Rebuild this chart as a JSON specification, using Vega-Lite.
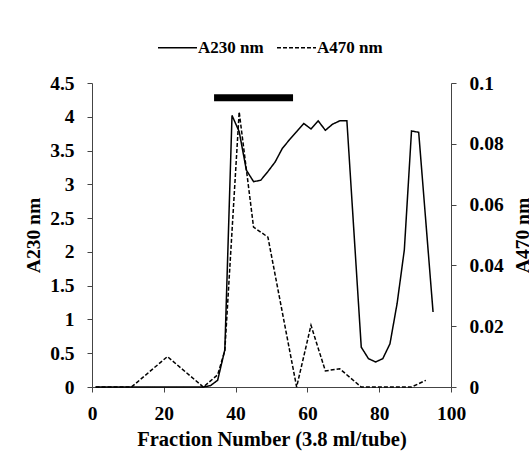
{
  "$schema": "https://vega.github.io/schema/vega-lite/v6.json",
  "width": 359,
  "height": 304,
  "autosize": {"type": "none"},
  "padding": {"left": 92, "top": 83, "right": 78, "bottom": 70},
  "background": "white",
  "config": {
    "view": {"stroke": null},
    "font": "Liberation Serif",
    "axis": {
      "labelFont": "Liberation Serif",
      "labelFontWeight": "bold",
      "labelFontSize": 19.5,
      "labelColor": "black",
      "titleFont": "Liberation Serif",
      "titleFontWeight": "bold",
      "titleFontSize": 19.5,
      "titleColor": "black",
      "domainColor": "#444",
      "tickColor": "#444",
      "tickSize": 5,
      "grid": false,
      "labelFlush": false,
      "labelOverlap": false
    },
    "legend": {
      "orient": "none",
      "legendX": 65,
      "legendY": -56,
      "direction": "horizontal",
      "symbolType": "stroke",
      "symbolSize": 1521,
      "symbolStrokeWidth": 1.5,
      "symbolStrokeColor": "black",
      "labelFont": "Liberation Serif",
      "labelFontWeight": "bold",
      "labelFontSize": 17,
      "labelColor": "black",
      "labelOffset": 0,
      "columnPadding": 10,
      "padding": 0
    }
  },
  "datasets": {
    "curves": [
      {"series": "A230 nm", "fraction": 1, "absorbance": 0},
      {"series": "A230 nm", "fraction": 11, "absorbance": 0},
      {"series": "A230 nm", "fraction": 21, "absorbance": 0},
      {"series": "A230 nm", "fraction": 31, "absorbance": 0},
      {"series": "A230 nm", "fraction": 33, "absorbance": 0.02},
      {"series": "A230 nm", "fraction": 35, "absorbance": 0.1},
      {"series": "A230 nm", "fraction": 37, "absorbance": 0.55},
      {"series": "A230 nm", "fraction": 39, "absorbance": 4.02},
      {"series": "A230 nm", "fraction": 41, "absorbance": 3.78},
      {"series": "A230 nm", "fraction": 43, "absorbance": 3.21},
      {"series": "A230 nm", "fraction": 45, "absorbance": 3.04},
      {"series": "A230 nm", "fraction": 47, "absorbance": 3.06},
      {"series": "A230 nm", "fraction": 49, "absorbance": 3.19},
      {"series": "A230 nm", "fraction": 51, "absorbance": 3.33},
      {"series": "A230 nm", "fraction": 53, "absorbance": 3.53},
      {"series": "A230 nm", "fraction": 55, "absorbance": 3.66},
      {"series": "A230 nm", "fraction": 57, "absorbance": 3.78},
      {"series": "A230 nm", "fraction": 59, "absorbance": 3.9},
      {"series": "A230 nm", "fraction": 61, "absorbance": 3.82},
      {"series": "A230 nm", "fraction": 63, "absorbance": 3.94},
      {"series": "A230 nm", "fraction": 65, "absorbance": 3.8},
      {"series": "A230 nm", "fraction": 67, "absorbance": 3.89},
      {"series": "A230 nm", "fraction": 69, "absorbance": 3.94},
      {"series": "A230 nm", "fraction": 71, "absorbance": 3.94},
      {"series": "A230 nm", "fraction": 75, "absorbance": 0.59},
      {"series": "A230 nm", "fraction": 77, "absorbance": 0.42},
      {"series": "A230 nm", "fraction": 79, "absorbance": 0.37},
      {"series": "A230 nm", "fraction": 81, "absorbance": 0.42},
      {"series": "A230 nm", "fraction": 83, "absorbance": 0.64},
      {"series": "A230 nm", "fraction": 85, "absorbance": 1.24},
      {"series": "A230 nm", "fraction": 87, "absorbance": 2.03},
      {"series": "A230 nm", "fraction": 89, "absorbance": 3.79},
      {"series": "A230 nm", "fraction": 91, "absorbance": 3.77},
      {"series": "A230 nm", "fraction": 95, "absorbance": 1.11},
      {"series": "A470 nm", "fraction": 1, "absorbance": 0},
      {"series": "A470 nm", "fraction": 11, "absorbance": 0},
      {"series": "A470 nm", "fraction": 21, "absorbance": 0.01},
      {"series": "A470 nm", "fraction": 31, "absorbance": 0},
      {"series": "A470 nm", "fraction": 35, "absorbance": 0.004},
      {"series": "A470 nm", "fraction": 37, "absorbance": 0.012},
      {"series": "A470 nm", "fraction": 41, "absorbance": 0.0905},
      {"series": "A470 nm", "fraction": 45, "absorbance": 0.0526},
      {"series": "A470 nm", "fraction": 49, "absorbance": 0.0493},
      {"series": "A470 nm", "fraction": 57, "absorbance": 0},
      {"series": "A470 nm", "fraction": 61, "absorbance": 0.0203},
      {"series": "A470 nm", "fraction": 65, "absorbance": 0.0053},
      {"series": "A470 nm", "fraction": 69, "absorbance": 0.006},
      {"series": "A470 nm", "fraction": 75, "absorbance": 0},
      {"series": "A470 nm", "fraction": 81, "absorbance": 0},
      {"series": "A470 nm", "fraction": 89, "absorbance": 0},
      {"series": "A470 nm", "fraction": 93, "absorbance": 0.0022}
    ],
    "pooled": [
      {"fraction": 34, "fraction_end": 56, "absorbance": 4.28}
    ]
  },
  "layer": [
    {
      "layer": [
        {
          "data": {"name": "curves"},
          "transform": [{"filter": "datum.series === 'A230 nm'"}],
          "mark": {"type": "line", "color": "black", "strokeWidth": 1.5},
          "encoding": {
            "x": {
              "field": "fraction",
              "type": "quantitative",
              "scale": {"domain": [0, 100], "nice": false},
              "axis": {"values": [0, 20, 40, 60, 80, 100], "title": "Fraction Number (3.8 ml/tube)", "labelPadding": 12, "titlePadding": 7, "titleFontSize": 20.5}
            },
            "y": {
              "field": "absorbance",
              "type": "quantitative",
              "scale": {"domain": [0, 4.5], "nice": false, "zero": true},
              "axis": {"orient": "left", "values": [0, 0.5, 1, 1.5, 2, 2.5, 3, 3.5, 4, 4.5], "format": "~g", "title": "A230 nm", "labelPadding": 13, "titlePadding": 6}
            },
            "strokeDash": {
              "field": "series",
              "type": "nominal",
              "scale": {"domain": ["A230 nm", "A470 nm"], "range": [[1, 0], [4, 2]]},
              "legend": {"title": null}
            }
          }
        },
        {
          "data": {"name": "pooled"},
          "mark": {"type": "rule", "color": "black", "strokeWidth": 7, "strokeCap": "butt"},
          "encoding": {
            "x": {
              "field": "fraction",
              "type": "quantitative",
              "axis": {"values": [0, 20, 40, 60, 80, 100], "title": "Fraction Number (3.8 ml/tube)", "labelPadding": 12, "titlePadding": 7, "titleFontSize": 20.5}
            },
            "x2": {"field": "fraction_end"},
            "y": {
              "field": "absorbance",
              "type": "quantitative",
              "axis": {"orient": "left", "values": [0, 0.5, 1, 1.5, 2, 2.5, 3, 3.5, 4, 4.5], "format": "~g", "title": "A230 nm", "labelPadding": 13, "titlePadding": 6}
            }
          }
        }
      ]
    },
    {
      "data": {"name": "curves"},
      "transform": [{"filter": "datum.series === 'A470 nm'"}],
      "mark": {"type": "line", "color": "black", "strokeWidth": 1.5},
      "encoding": {
        "x": {"field": "fraction", "type": "quantitative"},
        "y": {
          "field": "absorbance",
          "type": "quantitative",
          "scale": {"domain": [0, 0.1], "nice": false},
          "axis": {"orient": "right", "values": [0, 0.02, 0.04, 0.06, 0.08, 0.1], "format": "~g", "title": "A470 nm", "titleAngle": 270, "titleBaseline": "top", "labelPadding": 13, "titlePadding": 10}
        },
        "strokeDash": {"field": "series", "type": "nominal"}
      }
    }
  ],
  "resolve": {"scale": {"y": "independent"}}
}
